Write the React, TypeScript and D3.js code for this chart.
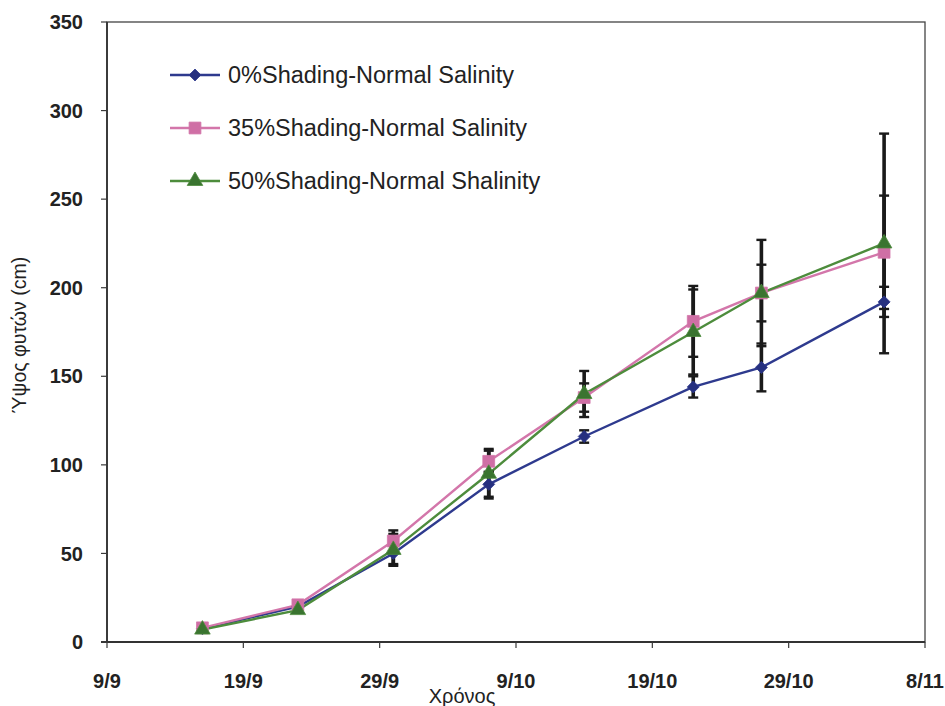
import React from "react";
import * as d3 from "d3";

// Sampling dates and mean plant height (cm) with error ranges
const sampleDates = ["2008-09-16", "2008-09-23", "2008-09-30", "2008-10-07", "2008-10-14", "2008-10-22", "2008-10-27", "2008-11-05"];
const shade0 = [7.5, 20, 50, 89, 116, 144, 155, 192];
const shade0Err = [1, 1.5, 6, 7, 3.5, 6, 13.5, 8.5];
const shade35 = [8, 21, 57, 102, 138, 181, 197, 220];
const shade35Err = [1, 1.5, 6, 6, 8, 20, 16, 32];
const shade50 = [7, 18, 52, 95, 140, 175, 197, 225];
const shade50Err = [1, 1.5, 9, 14, 13, 24, 30, 62];

const seriesNames = ["0%Shading-Normal Salinity", "35%Shading-Normal Salinity", "50%Shading-Normal Shalinity"];
const xTickDates = ["2008-09-09", "2008-09-19", "2008-09-29", "2008-10-09", "2008-10-19", "2008-10-29", "2008-11-08"];
const yTicks = [0, 50, 100, 150, 200, 250, 300, 350];

const W = 945;
const H = 706;
const left = 107;
const right = 925;
const top = 22;
const bottom = 642;

const parse = d3.utcParse("%Y-%m-%d");
const fmt = d3.utcFormat("%-d/%-m");

const x = d3.scaleUtc().domain([parse(xTickDates[0])!, parse(xTickDates[xTickDates.length - 1])!]).range([left, right]);
const y = d3.scaleLinear().domain([0, 350]).range([bottom, top]);

type Marker = "diamond" | "square" | "triangle";
const series = [
  { name: seriesNames[0], values: shade0, errs: shade0Err, color: "#2e3a8e", fill: "#26307f", marker: "diamond" as Marker },
  { name: seriesNames[1], values: shade35, errs: shade35Err, color: "#d376aa", fill: "#cf6fa5", marker: "square" as Marker },
  { name: seriesNames[2], values: shade50, errs: shade50Err, color: "#4d8c3c", fill: "#3a7430", marker: "triangle" as Marker },
];

// diamond drawn as a square turned 45 degrees
const diamond = "M0,-6L6,0L0,6L-6,0Z";
const symbolPath = (m: Marker) => {
  if (m === "diamond") return diamond;
  if (m === "square") return d3.symbol(d3.symbolSquare, 140)()!;
  return d3.symbol(d3.symbolTriangle, 105)()!;
};

const font = "'Liberation Sans', Arial, sans-serif";

export default function App() {
  const dates = sampleDates.map((d) => parse(d)!);
  const line = d3.line<number>().x((_, i) => x(dates[i])).y((v) => y(v));

  return (
    <svg width={W} height={H} style={{ position: "absolute", left: 0, top: 0, background: "#fff" }} fontFamily={font}>
      <rect x={0} y={0} width={W} height={H} fill="#fff" />
      {/* plot frame */}
      <rect x={left} y={top} width={right - left} height={bottom - top} fill="none" stroke="#444" strokeWidth={1.3} />
      <line x1={left} x2={left} y1={top} y2={bottom} stroke="#333" strokeWidth={1.8} />
      <line x1={left - 6} x2={right} y1={bottom} y2={bottom} stroke="#333" strokeWidth={1.8} />

      {/* y axis ticks and labels */}
      {yTicks.map((t) => (
        <g key={t}>
          <line x1={left - 6} x2={left} y1={y(t)} y2={y(t)} stroke="#3a3a3a" strokeWidth={1.2} />
          <text x={83} y={y(t)} dy="0.36em" textAnchor="end" fontSize={20} fontWeight="bold" fill="#222">
            {t}
          </text>
        </g>
      ))}

      {/* x axis ticks and labels */}
      {xTickDates.map((d) => {
        const xv = x(parse(d)!);
        return (
          <g key={d}>
            <line x1={xv} x2={xv} y1={bottom} y2={bottom + 6} stroke="#3a3a3a" strokeWidth={1.2} />
            <text x={xv} y={688} textAnchor="middle" fontSize={20} fontWeight="bold" fill="#222">
              {fmt(parse(d)!)}
            </text>
          </g>
        );
      })}

      {/* axis titles */}
      <text x={462} y={703} textAnchor="middle" fontSize={20} fill="#222">Χρόνος</text>
      <text transform={`translate(26, 335) rotate(-90)`} textAnchor="middle" fontSize={19.5} fill="#222">
        Ύψος φυτών (cm)
      </text>

      {/* series lines */}
      {series.map((s) => (
        <path key={s.name} d={line(s.values)!} fill="none" stroke={s.color} strokeWidth={2.4} />
      ))}

      {/* error bars */}
      {series.map((s) =>
        s.values.map((v, i) => {
          const xv = x(dates[i]);
          const y1 = y(v + s.errs[i]);
          const y2 = y(v - s.errs[i]);
          return (
            <g key={s.name + i} stroke="#1a1a1a">
              <line x1={xv} x2={xv} y1={y1} y2={y2} strokeWidth={3.6} />
              <line x1={xv - 5} x2={xv + 5} y1={y1} y2={y1} strokeWidth={2.4} />
              <line x1={xv - 5} x2={xv + 5} y1={y2} y2={y2} strokeWidth={2.4} />
            </g>
          );
        })
      )}

      {/* markers */}
      {series.map((s) =>
        s.values.map((v, i) => (
          <path key={s.name + "m" + i} d={symbolPath(s.marker)} transform={`translate(${x(dates[i])},${y(v)})`} fill={s.fill} stroke={s.color} strokeWidth={0.8} />
        ))
      )}

      {/* legend */}
      {series.map((s, i) => {
        const ly = 75 + i * 53;
        return (
          <g key={s.name + "lg"}>
            <line x1={170} x2={220} y1={ly} y2={ly} stroke={s.color} strokeWidth={2.4} />
            <path d={symbolPath(s.marker)} transform={`translate(195,${ly})`} fill={s.fill} stroke={s.color} strokeWidth={0.8} />
            <text x={228} y={ly} dy="0.36em" fontSize={23.5} fill="#222">
              {s.name}
            </text>
          </g>
        );
      })}
    </svg>
  );
}
